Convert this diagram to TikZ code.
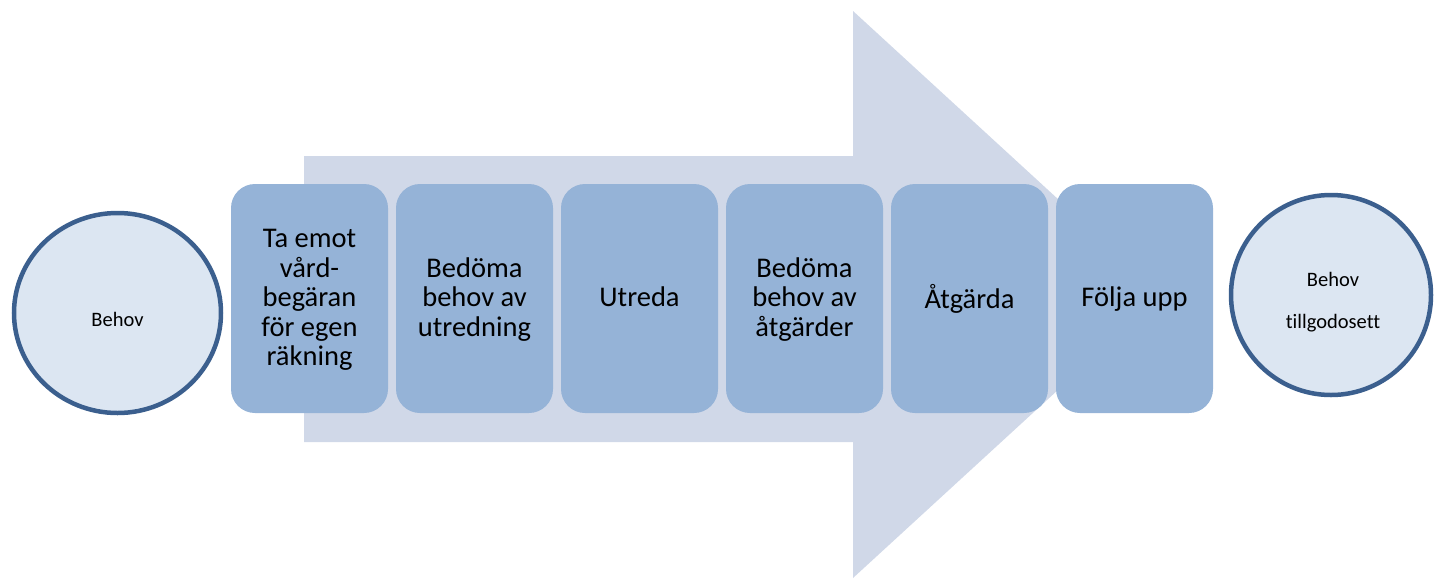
\documentclass[tikz,border=0pt]{standalone}
\usepackage{fontspec}
\usetikzlibrary{shapes.geometric}
\setmainfont[Ligatures={TeX,NoCommon}]{Carlito}
\definecolor{arrowfill}{HTML}{D0D8E8}
\definecolor{boxfill}{HTML}{95B3D7}
\definecolor{circfill}{HTML}{DCE6F2}
\definecolor{circline}{HTML}{3B5F8E}
\tikzset{
  stepbox/.style={rectangle, rounded corners=24pt, fill=boxfill, draw=none,
    minimum width=157pt, minimum height=229pt, inner sep=0pt},
  steptext/.style={align=center, inner sep=0pt, font=\fontsize{28.5}{29.5}\selectfont, text=black},
  endcirc/.style={circle, fill=circfill, draw=circline, line width=4.5pt,
    minimum size=202pt, inner sep=0pt},
  circtext/.style={anchor=base, inner sep=0pt, font=\fontsize{20.5}{24}\selectfont, text=black}
}
\begin{document}
\begin{tikzpicture}[x=1pt,y=-1pt]
\useasboundingbox (0,0) rectangle (1435,579);
% big background arrow
\fill[arrowfill] (304,156) -- (853,156) -- (853,11) -- (1162,294.5) -- (853,578) -- (853,442) -- (304,442) -- cycle;
% end circles
\node[endcirc, ellipse, minimum width=207pt, minimum height=200pt] (start) at (117.5,313) {};
\node[circtext] (starttext) at (117.5,326) {Behov};
\node[endcirc, minimum size=200pt] (finish) at (1331,295) {};
\node[circtext] (finishtext1) at (1333,286) {Behov};
\node[circtext] (finishtext2) at (1333,328) {tillgodosett};
% step boxes
\node[stepbox] (s1) at (309.5,298.5) {};
\node[stepbox] (s2) at (474.5,298.5) {};
\node[stepbox] (s3) at (639.5,298.5) {};
\node[stepbox] (s4) at (804.5,298.5) {};
\node[stepbox] (s5) at (969.5,298.5) {};
\node[stepbox] (s6) at (1134.5,298.5) {};
% step texts (middle baseline at y=307)
\node[steptext] (t1) at (309.5,301) {\strut Ta emot\\\strut vård-\\\strut begäran\\\strut för egen\\\strut räkning};
\node[steptext] (t2) at (474.5,301) {\strut Bedöma\\\strut behov av\\\strut utredning};
\node[steptext] (t3) at (639.5,301) {\strut Utreda};
\node[steptext] (t4) at (804.5,301) {\strut Bedöma\\\strut behov av\\\strut åtgärder};
\node[steptext] (t5) at (969.5,301) {\strut Åtgärda};
\node[steptext] (t6) at (1134.5,301) {\strut Följa upp};
\end{tikzpicture}
\end{document}
